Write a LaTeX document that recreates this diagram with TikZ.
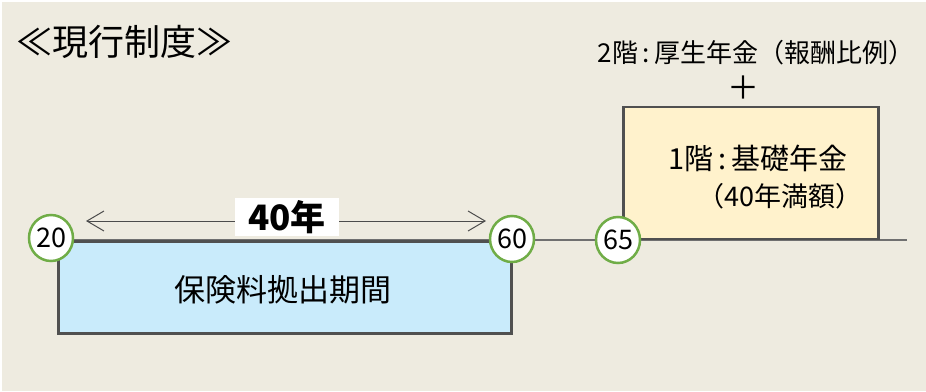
\documentclass[tikz,border=0pt]{standalone}
\usepackage{fontspec}
\setmainfont{Noto Sans CJK JP}
\newfontfamily\jp{Noto Sans CJK JP}
\usetikzlibrary{arrows.meta,shapes.geometric}
\definecolor{bgc}{HTML}{EEEBE0}
\definecolor{blueF}{HTML}{C9EBFB}
\definecolor{yellowF}{HTML}{FFF2CC}
\definecolor{edgeC}{HTML}{505050}
\definecolor{greenC}{HTML}{70AD47}
\definecolor{axisC}{HTML}{707070}
\begin{document}
\begin{tikzpicture}[x=1pt,y=-1pt,
  agebox/.style={ellipse,draw=greenC,line width=2.5pt,fill=white,minimum width=44pt,minimum height=46pt,inner sep=0pt,font=\jp\fontsize{27}{27}\selectfont},
  periodbox/.style={draw=edgeC,line width=2.5pt,inner sep=0pt},
  lbl/.style={inner sep=0pt,text=black}]
\useasboundingbox (0,0) rectangle (926,391);
\fill[white] (0,0) rectangle (926,391);
\fill[bgc] (2,2) rectangle (926,391);
% axis
\coordinate (axL) at (28,240);
\coordinate (axR) at (907,240);
\draw[axisC,line width=1.3pt] (axL) -- (axR);
% boxes
\node[periodbox,fill=blueF,minimum width=453pt,minimum height=92pt,anchor=north west] (pay) at (57,240) {};
\node[periodbox,fill=yellowF,minimum width=255pt,minimum height=132pt,anchor=south west] (basic) at (622,240) {};
% texts
\node[lbl,font=\jp\fontsize{31}{31}\selectfont] (payt) at (283,290) {保険料拠出期間};
\node[lbl,font=\jp\fontsize{29}{29}\selectfont] (b1) at (758,158) {1階\,:\,基礎年金};
\node[lbl,font=\jp\fontsize{27}{27}\selectfont] (b2) at (780,196) {（40年満額）};
\node[lbl,font=\jp\fontsize{26}{26}\selectfont] (t2) at (756,53) {2階\,:\,厚生年金（報酬比例）};
\node[lbl,font=\jp\fontsize{32}{32}\selectfont] (plus) at (743,88) {＋};
\node[lbl,font=\jp\fontsize{36}{36}\selectfont,anchor=west] (title) at (16,42) {≪現行制度≫};
% ages
\node[agebox] (a20) at (51,238) {20};
\node[agebox] (a60) at (512,239) {60};
\node[agebox] (a65) at (618,240) {65};
% 40 years
\coordinate (arL) at (86,221);
\coordinate (arR) at (486,221);
\draw[black!70,line width=1pt,{Straight Barb[length=17pt,width=20pt]}-{Straight Barb[length=17pt,width=20pt]}] (arL) -- (arR);
\node[fill=white,minimum width=104pt,minimum height=38pt,inner sep=0pt] (yrbg) at (287,217) {};
\node[lbl,font=\jp\bfseries\fontsize{35}{35}\selectfont] (yrs) at (287,217) {40年};
\end{tikzpicture}
\end{document}
